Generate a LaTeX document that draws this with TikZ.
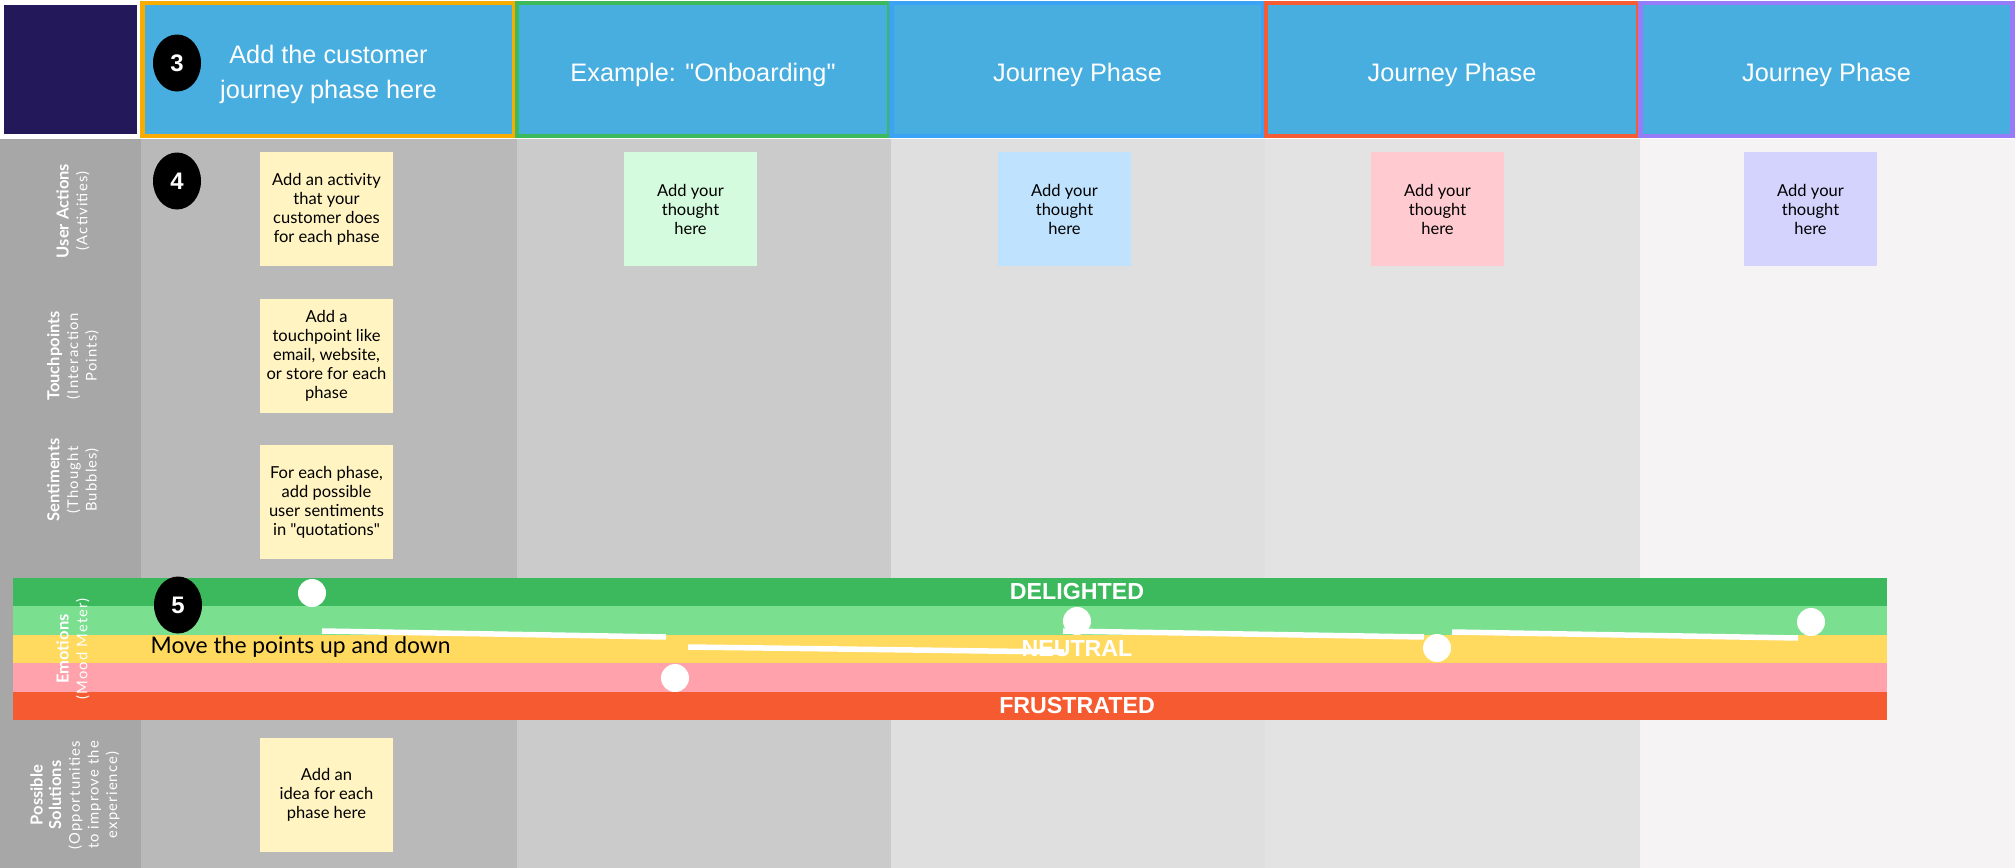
\documentclass[tikz,border=0pt]{standalone}
\usepackage{fontspec}
\setmainfont{Liberation Sans}
\newfontfamily\notefont{Lato}
\newfontfamily\litefont[LetterSpace=8]{Lato}
\usetikzlibrary{positioning,shapes.geometric}

% one pixel of the board
\newlength\px
\setlength\px{0.1mm}

% header colours
\definecolor{navy}{HTML}{22185A}
\definecolor{phaseblue}{HTML}{47AEDF}
\definecolor{edgeorange}{HTML}{F9AC00}
\definecolor{edgegreen}{HTML}{3CB95A}
\definecolor{edgeblue}{HTML}{3AA3F5}
\definecolor{edgered}{HTML}{F55C33}
\definecolor{edgepurple}{HTML}{967CF8}
% lane colours
\definecolor{lanegray}{HTML}{A8A7A7}
\definecolor{laneA}{HTML}{BAB9BA}
\definecolor{laneB}{HTML}{CBCBCB}
\definecolor{laneC}{HTML}{E0DFDF}
\definecolor{laneD}{HTML}{E3E3E3}
\definecolor{laneE}{HTML}{F5F3F4}
% sticky notes
\definecolor{noteyellow}{HTML}{FFF4C2}
\definecolor{notegreen}{HTML}{D5FBDE}
\definecolor{noteblue}{HTML}{BFE3FE}
\definecolor{notepink}{HTML}{FFCBD1}
\definecolor{notelilac}{HTML}{D3D3FE}
% mood meter
\definecolor{moodA}{HTML}{3CB95D}
\definecolor{moodB}{HTML}{7AE090}
\definecolor{moodC}{HTML}{FFDA5E}
\definecolor{moodD}{HTML}{FFA2AB}
\definecolor{moodE}{HTML}{F55A31}

\tikzset{
  phase/.style={fill=phaseblue, line width=4.5\px, minimum width=372\px,
    minimum height=133\px, inner sep=0pt},
  phasetext/.style={text=white, align=center, inner sep=0pt,
    font=\fontsize{7.2pt}{10pt}\selectfont},
  note/.style={minimum width=133\px, minimum height=114\px, inner sep=0pt,
    align=center, font=\notefont\fontsize{4.7pt}{5.4pt}\selectfont},
  badge/.style={ellipse, fill=black, minimum width=48\px, minimum height=57\px,
    inner sep=0pt, text=white, font=\bfseries\fontsize{6.8pt}{8pt}\selectfont},
  lanelabel/.style={rotate=90, text=white, align=center,
    font=\notefont\fontsize{4.2pt}{5.3pt}\selectfont},
  moodlabel/.style={text=white, font=\bfseries\fontsize{6.6pt}{7pt}\selectfont},
  point/.style={circle, fill=white, minimum size=28\px, inner sep=0pt},
  trail/.style={white, line width=5.5\px},
}
\newcommand\lanehead[1]{{\bfseries\fontsize{4.7pt}{5.3pt}\selectfont #1}}

\begin{document}
\begin{tikzpicture}[x=0.1mm, y=-0.1mm]
	% canvas
	\fill[white] (0,0) rectangle (2015,868);
	\useasboundingbox (0,0) rectangle (2015,868);

	% lanes
	\fill[lanegray] (0,139) rectangle (141,868);
	\foreach \c/\xa/\xb in {laneA/141/517, laneB/517/891, laneC/891/1265, laneD/1265/1640, laneE/1640/2015}
	{
		\fill[\c] (\xa,139) rectangle (\xb,868);
	}

	% corner and phase headers
	\node[fill=navy, minimum width=133\px, minimum height=129\px, inner sep=0pt] (corner) at (70.5,69.5) {};
	\foreach \txt/\c [count=\index] in {{Add the customer\\journey phase here}/edgeorange,
	                                    {Example: \textquotedbl Onboarding\textquotedbl}/edgegreen,
	                                    {Journey Phase}/edgeblue,
	                                    {Journey Phase}/edgered,
	                                    {Journey Phase}/edgepurple}
	{
		\node[phase, draw=\c] (phase_\index) at ({328.5+374.5*(\index-1)},69.5) {};
		\node[phasetext] (title_\index) at ([yshift=-5\px]phase_\index.center) {\txt};
	}

	% lane titles
	\node[lanelabel] (lane_actions) at (73,211) {\lanehead{User Actions}\\{\litefont(Activities)}};
	\node[lanelabel] (lane_touch) at (73,356) {\lanehead{Touchpoints}\\{\litefont(Interaction}\\{\litefont Points)}};
	\node[lanelabel] (lane_feel) at (73,480) {\lanehead{Sentiments}\\{\litefont(Thought}\\{\litefont Bubbles)}};
	\node[lanelabel] (lane_sol) at (75,795) {\lanehead{Possible}\\\lanehead{Solutions}\\{\litefont(Opportunities}\\{\litefont to improve the}\\{\litefont experience)}};

	% notes of the first phase
	\foreach \txt/\y [count=\index] in {{Add an activity\\that your\\customer does\\for each phase}/209,
	                                    {Add a\\touchpoint like\\email, website,\\or store for each\\phase}/356,
	                                    {For each phase,\\add possible\\user sentiments\\in "quotations"}/502,
	                                    {Add an\\idea for each\\phase here}/795}
	{
		\node[note, fill=noteyellow] (first_\index) at (326.5,\y) {\txt};
	}
	% thoughts of the other phases
	\foreach \c/\x [count=\index] in {notegreen/690.5, noteblue/1064.5, notepink/1437.5, notelilac/1810.5}
	{
		\node[note, fill=\c] (thought_\index) at (\x,209) {Add your\\thought\\here};
	}

	% mood meter bands
	\foreach \c [count=\index] in {moodA, moodB, moodC, moodD, moodE}
	{
		\fill[\c] (13,{578+28.4*(\index-1)}) rectangle (1887,{578+28.4*\index});
	}
	\node[lanelabel] (lane_mood) at (73,649) {\lanehead{Emotions}\\{\litefont(Mood Meter)}};
	\node[moodlabel] (mood_top) at (1077,592) {DELIGHTED};
	\node[moodlabel] (mood_mid) at (1077,649) {NEUTRAL};
	\node[moodlabel] (mood_low) at (1077,706) {FRUSTRATED};
	\node[anchor=west, inner sep=0pt, font=\notefont\fontsize{6.5pt}{7pt}\selectfont] (hint) at (150,647) {Move the points up and down};

	% trail pieces
	\coordinate (t_1a) at (322,631);  \coordinate (t_1b) at (666,637);
	\coordinate (t_2a) at (688,647);  \coordinate (t_2b) at (1064,652);
	\coordinate (t_3a) at (1063,631); \coordinate (t_3b) at (1424,637);
	\coordinate (t_4a) at (1452,632); \coordinate (t_4b) at (1798,638);
	\draw[trail] (t_1a) -- (t_1b);
	\draw[trail] (t_2a) -- (t_2b);
	\draw[trail] (t_3a) -- (t_3b);
	\draw[trail] (t_4a) -- (t_4b);

	% points
	\node[point] (p_1) at (312,593) {};
	\node[point] (p_2) at (675,678) {};
	\node[point] (p_3) at (1077,621) {};
	\node[point] (p_4) at (1437,648) {};
	\node[point] (p_5) at (1811,622) {};

	% step badges
	\node[badge] (badge_3) at (177,63) {3};
	\node[badge] (badge_4) at (177,181) {4};
	\node[badge] (badge_5) at (178,605) {5};
\end{tikzpicture}
\end{document}
